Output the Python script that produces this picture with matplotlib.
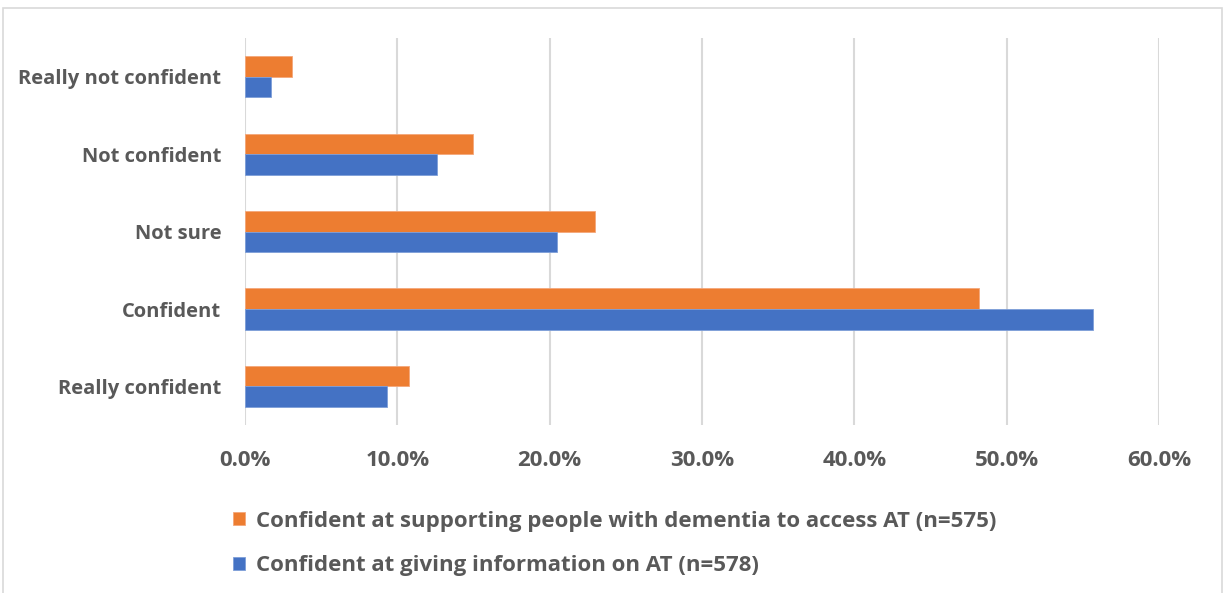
import numpy as np
import matplotlib.pyplot as plt
from matplotlib.patches import Rectangle
from matplotlib.ticker import FuncFormatter

# confidence levels, top to bottom
levels = ["Really not confident", "Not confident", "Not sure", "Confident", "Really confident"]
supporting = [3.1, 15.0, 23.0, 48.2, 10.8]   # % (n=575)
giving_info = [1.7, 12.6, 20.5, 55.7, 9.3]   # % (n=578)

label_support = "Confident at supporting people with dementia to access AT (n=575)"
label_info = "Confident at giving information on AT (n=578)"

orange = "#ED7D31"
blue = "#4472C4"
grey_txt = "#595959"

plt.rcParams['font.family'] = ['Open Sans', 'DejaVu Sans']
plt.rcParams['font.weight'] = 'bold'

fig = plt.figure(figsize=(12.25, 5.93), dpi=100)
ax = fig.add_axes([0.2, 0.283, 0.746, 0.653])

y = np.arange(len(levels))
h = 0.265
ax.barh(y - h / 2, supporting, height=h, color=orange, edgecolor="#F4A77A", linewidth=0.6,
        label=label_support, zorder=3)
ax.barh(y + h / 2, giving_info, height=h, color=blue, edgecolor="#7E9ED8", linewidth=0.6,
        label=label_info, zorder=3)

ax.set_xlim(0, 60)
ax.set_ylim(len(levels) - 0.5, -0.5)
ax.set_xticks(np.arange(0, 61, 10))
ax.xaxis.set_major_formatter(FuncFormatter(lambda v, p: f"{v:.1f}%"))
ax.set_yticks(y)
ax.set_yticklabels(levels)

ax.grid(axis="x", color="#D9D9D9", linewidth=1.5, zorder=0)
for s in ax.spines.values():
    s.set_visible(False)
ax.tick_params(axis="both", length=0, colors=grey_txt)
ax.tick_params(axis="y", pad=17, labelsize=14.5)
ax.tick_params(axis="x", pad=18, labelsize=16)
for t in ax.get_xticklabels() + ax.get_yticklabels():
    t.set_fontweight("bold")

leg = fig.legend(loc="upper left", bbox_to_anchor=(0.183, 0.154), frameon=False,
                 prop={"size": 16, "weight": "bold"}, handlelength=0.55, handleheight=0.55,
                 handletextpad=0.5, labelspacing=1.07, borderaxespad=0)
for t in leg.get_texts():
    t.set_color(grey_txt)

# outer chart border
fig.patches.append(Rectangle((3 / 1225, -0.01), 1219 / 1225, 1 - 8 / 593 + 0.01,
                             transform=fig.transFigure, fill=False,
                             edgecolor="#D9D9D9", linewidth=1.2))

fig.savefig("out.png", dpi=100)
